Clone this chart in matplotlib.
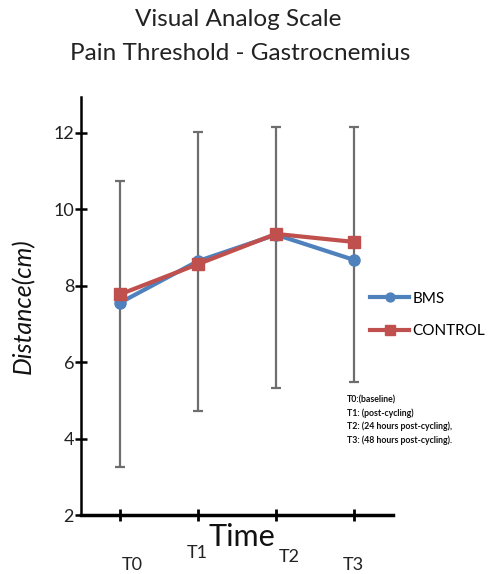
import matplotlib
matplotlib.use("Agg")
import matplotlib.pyplot as plt
import numpy as np

plt.rcParams['font.family'] = ['Lato', 'DejaVu Sans']

timepoints = ["T0", "T1", "T2", "T3"]
bms = [7.55, 8.64, 9.33, 8.67]
control = [7.77, 8.56, 9.35, 9.14]
err_top = [10.73, 12.02, 12.15, 12.15]
err_bottom = [3.26, 4.72, 5.32, 5.47]
notes = ["T0:(baseline)", "T1: (post-cycling)", "T2: (24 hours post-cycling),", "T3: (48 hours post-cycling)."]

W, H = 491, 574
fig = plt.figure(figsize=(W / 100, H / 100), dpi=100)
ax = fig.add_axes([81 / W, 1 - 515 / H, (393 - 81) / W, (515 - 97) / H])

x = np.arange(len(timepoints))
centers = np.array(bms)
yerr = [centers - np.array(err_bottom), np.array(err_top) - centers]
ax.errorbar(x, centers, yerr=yerr, fmt='none', ecolor='#6e6e6e', elinewidth=1.6, capsize=3.5, capthick=1.6, zorder=1)

ax.plot(x, bms, color='#4f81bd', lw=3, marker='o', ms=8, label='BMS', zorder=3)
ax.plot(x, control, color='#c0504d', lw=3, marker='s', ms=9, label='CONTROL', zorder=4)

ax.set_xlim(-0.5, 3.5)
ax.set_ylim(2, 12.93)
ax.set_yticks([2, 4, 6, 8, 10, 12])
ax.set_xticks(x)
ax.set_xticklabels([])
for s in ['top', 'right']:
    ax.spines[s].set_visible(False)
ax.spines['left'].set_linewidth(1.8)
ax.spines['bottom'].set_linewidth(2.5)
ax.tick_params(axis='y', direction='inout', length=8, width=1.8, labelsize=13, pad=1, labelcolor='#222222')
ax.tick_params(axis='x', direction='inout', length=9, width=2)

fig.text(23 / W, 1 - 306 / H, 'Distance(cm)', rotation=90, ha='center', va='center', fontsize=18,
         style='italic', color='#111111')

# x tick labels (staggered as in reference)
tick_label_y = [565, 553, 557, 565]
tick_label_x = [132, 197, 289, 353]
for lbl, tx, ty in zip(timepoints, tick_label_x, tick_label_y):
    fig.text(tx / W, 1 - ty / H, lbl, ha='center', va='center', fontsize=13, color='#222222')
fig.text(242 / W, 1 - 537 / H, 'Time', ha='center', va='center', fontsize=22, color='#111111')

fig.text(238 / W, 1 - 19 / H, 'Visual Analog Scale', ha='center', va='center', fontsize=17.5, color='#222222')
fig.text(240 / W, 1 - 53 / H, 'Pain Threshold - Gastrocnemius', ha='center', va='center', fontsize=17.5, color='#222222')

leg = ax.legend(loc='upper left', bbox_to_anchor=(362 / W, 1 - 284 / H), bbox_transform=fig.transFigure,
                frameon=False, fontsize=11, handlelength=2.6, labelspacing=1.2, handletextpad=0.2, borderpad=0,
                markerscale=0.8)

fig.text(347 / W, 1 - 395 / H, "\n".join(notes), ha='left', va='top', fontsize=6.3, fontweight='bold',
         linespacing=1.55, color='#111111')

fig.savefig('out.png', dpi=100)
